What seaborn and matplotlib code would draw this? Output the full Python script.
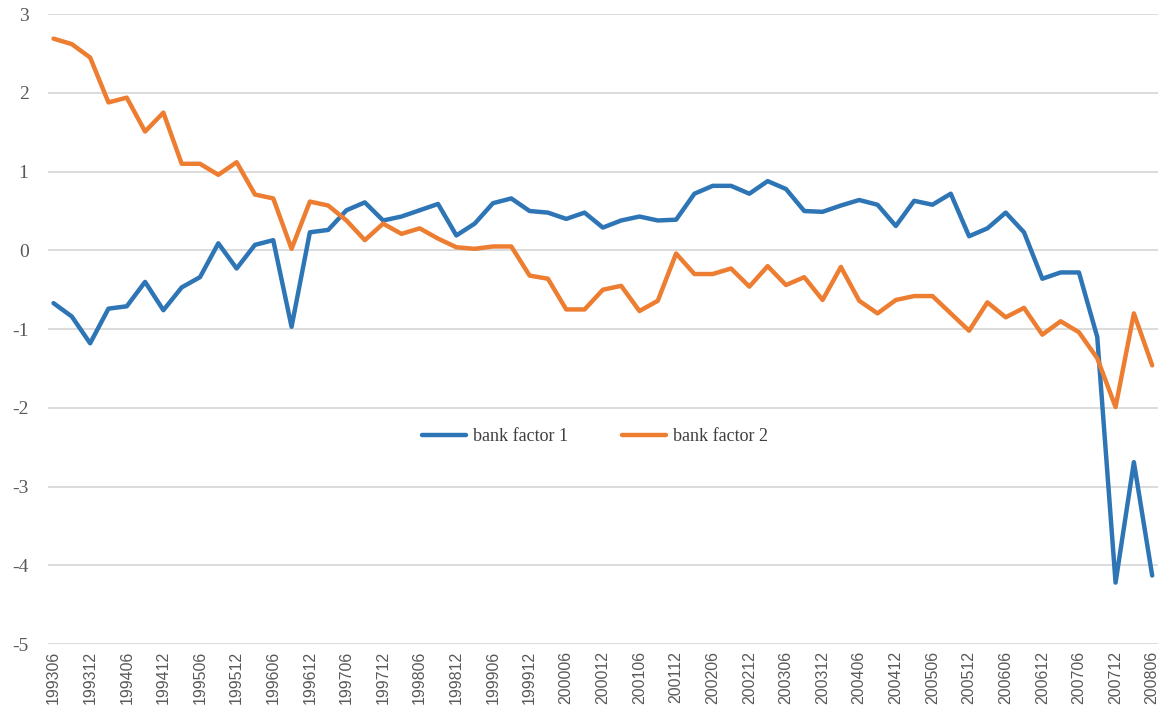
import numpy as np
import pandas as pd
import matplotlib
matplotlib.use("Agg")
import matplotlib.pyplot as plt
import seaborn as sns

# quarterly periods 199306 .. 200806
periods = [f"{y}{m:02d}" for y in range(1993, 2009) for m in (3, 6, 9, 12)]
periods = periods[periods.index("199306"):periods.index("200806") + 1]

bank_factor_1 = [
    -0.67, -0.84, -1.18, -0.74, -0.71, -0.40, -0.76, -0.47, -0.34, 0.09,
    -0.23, 0.07, 0.13, -0.97, 0.23, 0.26, 0.51, 0.61, 0.38, 0.43,
    0.51, 0.59, 0.19, 0.34, 0.60, 0.66, 0.50, 0.48, 0.40, 0.48,
    0.29, 0.38, 0.43, 0.38, 0.39, 0.72, 0.82, 0.82, 0.72, 0.88,
    0.78, 0.50, 0.49, 0.57, 0.64, 0.58, 0.31, 0.63, 0.58, 0.72,
    0.18, 0.28, 0.48, 0.23, -0.36, -0.28, -0.28, -1.10, -4.22, -2.69,
    -4.13,
]
bank_factor_2 = [
    2.69, 2.62, 2.45, 1.88, 1.94, 1.51, 1.75, 1.10, 1.10, 0.96,
    1.12, 0.71, 0.66, 0.02, 0.62, 0.57, 0.38, 0.13, 0.34, 0.21,
    0.28, 0.15, 0.04, 0.02, 0.05, 0.05, -0.32, -0.36, -0.75, -0.75,
    -0.50, -0.45, -0.77, -0.64, -0.04, -0.30, -0.30, -0.23, -0.46, -0.20,
    -0.44, -0.34, -0.63, -0.21, -0.64, -0.80, -0.63, -0.58, -0.58, -0.80,
    -1.02, -0.66, -0.85, -0.73, -1.07, -0.90, -1.04, -1.37, -1.99, -0.80,
    -1.46,
]
series_names = ["bank factor 1", "bank factor 2"]
colors = ["#2E75B6", "#ED7D31"]

df = pd.DataFrame({
    "idx": list(range(len(periods))) * 2,
    "value": bank_factor_1 + bank_factor_2,
    "series": [series_names[0]] * len(periods) + [series_names[1]] * len(periods),
})

sns.set_style("white")
plt.rcParams["font.family"] = ["Liberation Serif", "DejaVu Serif"]

fig = plt.figure(figsize=(11.6, 7.11), dpi=100)
ax = fig.add_axes([0.0414, 0.0942, 0.9566, 0.8858])

sns.lineplot(data=df, x="idx", y="value", hue="series", palette=colors,
             linewidth=3.2, ax=ax, legend=True)

ax.set_xlim(-0.3, len(periods) - 0.7)
ax.set_ylim(-5, 3)
ax.set_yticks(range(-5, 4))
ax.set_yticklabels([str(v) for v in range(-5, 4)], fontsize=14, color="#595959")
ax.yaxis.grid(True, color="#D9D9D9", linewidth=1.3)
ax.xaxis.grid(False)
ax.set_axisbelow(True)
for s in ax.spines.values():
    s.set_visible(False)
ax.tick_params(axis="both", length=0)
ax.tick_params(axis="y", pad=14)

ax.set_xticks(range(0, len(periods), 2))
ax.set_xticklabels(periods[::2], rotation=90, fontsize=11.5, color="#595959",
                   family=["Liberation Sans", "DejaVu Sans"])
ax.tick_params(axis="x", pad=5)
ax.set_xlabel("")
ax.set_ylabel("")

leg = ax.legend(loc="center", bbox_to_anchor=(0.493, 0.329), ncol=2, frameon=False,
                fontsize=13, handlelength=2.4, columnspacing=3.0, handletextpad=0.4)
for line in leg.get_lines():
    line.set_linewidth(3.2)
for t in leg.get_texts():
    t.set_color("#404040")

fig.savefig("out.png", dpi=100)
